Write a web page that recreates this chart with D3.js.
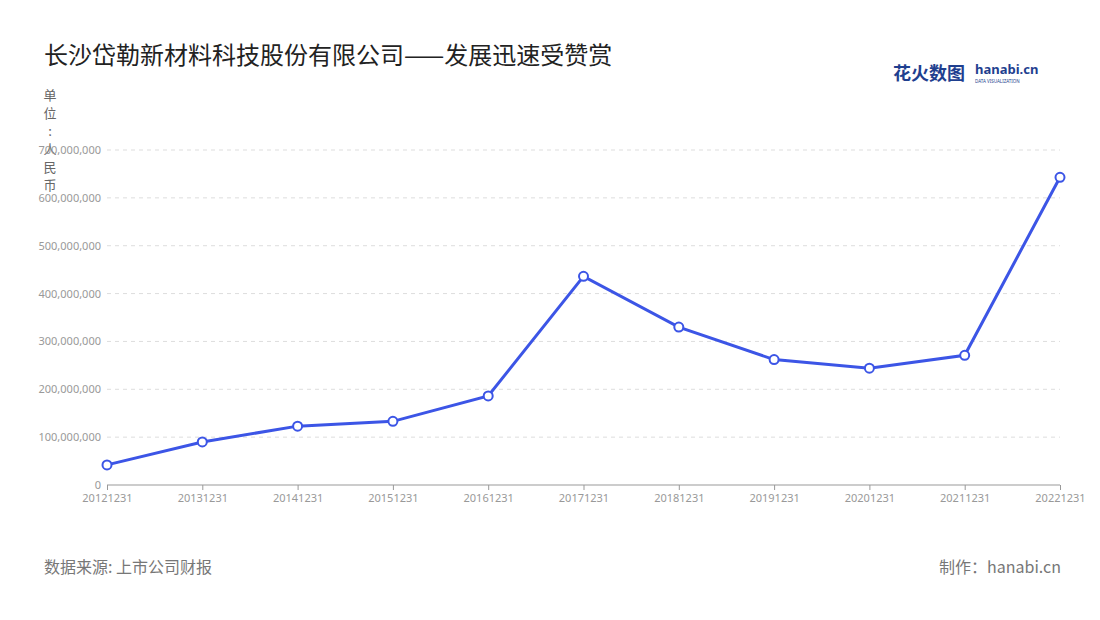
<!DOCTYPE html>
<html><head><meta charset="utf-8">
<script src="https://cdn.jsdelivr.net/npm/d3@7"></script>
<style>body{margin:0;background:#fff;font-family:"Noto Sans CJK SC","Noto Sans",sans-serif;}</style>
</head><body><svg id="c" width="1100" height="620"></svg>
<script>
const categories=["20121231","20131231","20141231","20151231","20161231","20171231","20181231","20191231","20201231","20211231","20221231"];
const values=[42e6,90e6,123e6,133e6,186e6,436e6,330e6,262e6,244e6,271e6,643e6];
const yTicks=[0,1e8,2e8,3e8,4e8,5e8,6e8,7e8];
const svg=d3.select("#c");
const x=d3.scalePoint().domain(categories).range([107,1060]);
const y=d3.scaleLinear().domain([0,7e8]).range([485,150]);
const F='"Noto Sans CJK SC",sans-serif';
svg.append("text").attr("x",44).attr("y",64).attr("font-size",24).attr("fill","#222").attr("font-family",F).text("长沙岱勒新材料科技股份有限公司——发展迅速受赞赏");
// logo
svg.append("text").attr("x",893).attr("y",80).attr("font-size",18).attr("font-weight","bold").attr("fill","#1f3f8f").attr("font-family",F).text("花火数图");
svg.append("text").attr("x",975).attr("y",74).attr("font-size",13).attr("font-weight","bold").attr("fill","#1f3f8f").attr("font-family","Noto Sans").text("hanabi.cn");
svg.append("text").attr("x",975).attr("y",83).attr("font-size",4.5).attr("fill","#1f3f8f").attr("font-family","Noto Sans").text("DATA VISUALIZATION");
// unit label
"单位：人民币".split("").forEach((ch,i)=>{svg.append("text").attr("x",50).attr("y",100+i*18).attr("text-anchor","middle").attr("font-size",13).attr("fill","#666").attr("font-family",F).text(ch==="："?":":ch);});
// grid
svg.append("g").selectAll("line").data(yTicks.slice(1)).join("line")
 .attr("x1",107).attr("x2",1060).attr("y1",d=>y(d)).attr("y2",d=>y(d))
 .attr("stroke","#ddd").attr("stroke-dasharray","4,4");
const ya=svg.append("g").attr("transform","translate(107,0)").call(d3.axisLeft(y).tickValues(yTicks).tickFormat(d3.format(",")).tickSize(0).tickPadding(6));
ya.select(".domain").remove();
ya.selectAll("text").attr("fill","#999").attr("font-size",11).attr("font-family","Noto Sans");
const xa=svg.append("g").attr("transform","translate(0,485)").call(d3.axisBottom(x).tickSize(5).tickPadding(4));
xa.select(".domain").attr("stroke","#999").attr("d","M107,0H1060");
xa.selectAll("line").attr("stroke","#999");
xa.selectAll("text").attr("fill","#999").attr("font-size",11).attr("font-family","Noto Sans");
const pts=categories.map((c,i)=>[x(c),y(values[i])]);
svg.append("path").attr("d",d3.line()(pts)).attr("fill","none").attr("stroke","#3c55e6").attr("stroke-width",3);
svg.append("g").selectAll("circle").data(pts).join("circle").attr("cx",d=>d[0]).attr("cy",d=>d[1]).attr("r",4.5)
 .attr("fill","#fff").attr("stroke","#3c55e6").attr("stroke-width",2);
svg.append("text").attr("x",44).attr("y",573).attr("font-size",16).attr("fill","#777").attr("font-family",F).text("数据来源: 上市公司财报");
svg.append("text").attr("x",1061).attr("y",573).attr("text-anchor","end").attr("font-size",16).attr("fill","#777").attr("font-family",F).text("制作：hanabi.cn");
</script></body></html>
